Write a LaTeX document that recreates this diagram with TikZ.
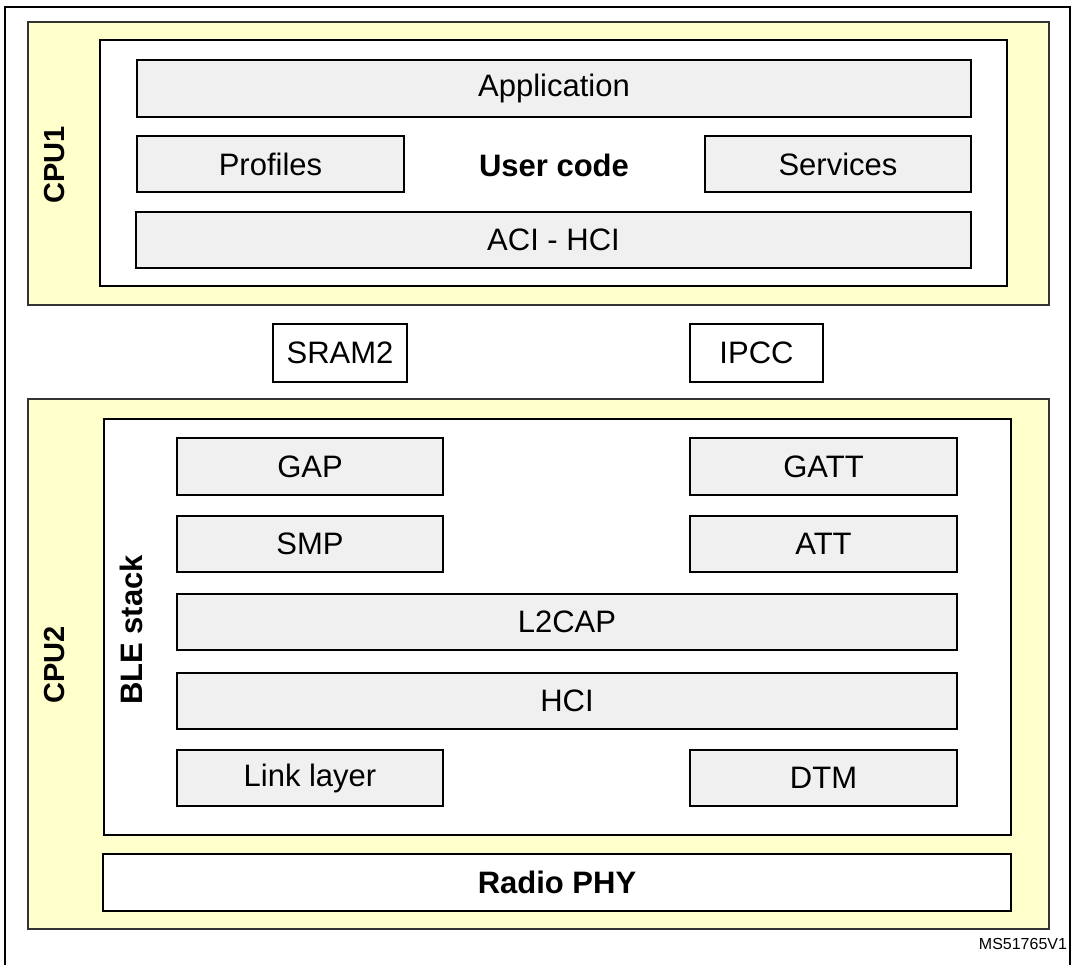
\documentclass[tikz,border=0pt]{standalone}
\usepackage{fontspec}
\setmainfont{Liberation Sans}
\definecolor{cpuyellow}{HTML}{FFFFCC}
\definecolor{blockgray}{HTML}{F0F0F0}
\definecolor{cpuedge}{HTML}{333333}
\begin{document}
\begin{tikzpicture}[x=1pt,y=-1pt,
  every node/.style={inner sep=0pt, outer sep=0pt},
  txt/.style={font=\fontsize{31}{36}\selectfont},
  btxt/.style={font=\fontsize{31}{36}\selectfont\bfseries},
  cputxt/.style={font=\fontsize{29}{34}\selectfont\bfseries, rotate=90},
  cpubox/.style={draw=cpuedge, line width=2pt, fill=cpuyellow},
  contbox/.style={draw=black, line width=2pt, fill=white},
  gblock/.style={draw=black, line width=1.6pt, fill=blockgray, txt},
  wblock/.style={draw=black, line width=1.6pt, fill=white, txt}
]
\useasboundingbox (0,0) rectangle (1072,965);
% outer frame
\draw[line width=2.4pt] (5,965) -- (5,7) -- (1070,7) -- (1070,965);

% CPU1
\node[cpubox, minimum width=1021pt, minimum height=283pt] (cpu1) at (538.5,163.5) {};
\node[cputxt] (cpu1lbl) at (55,165) {CPU1};
\node[contbox, minimum width=907pt, minimum height=246pt] (user) at (553.5,163) {};
\node[gblock, minimum width=834pt, minimum height=57pt] (app) at (554,88.5) {Application};
\node[gblock, minimum width=267pt, minimum height=56pt] (profiles) at (270.5,164) {Profiles};
\node[gblock, minimum width=266pt, minimum height=56pt] (services) at (838,164) {Services};
\node[gblock, minimum width=835pt, minimum height=56pt] (aci) at (553.5,240) {ACI - HCI};
\node[btxt] (usercode) at (554,165) {User code};

% shared resources
\node[wblock, minimum width=134pt, minimum height=58pt] (sram) at (340,353) {SRAM2};
\node[wblock, minimum width=133pt, minimum height=58pt] (ipcc) at (756.5,353) {IPCC};

% CPU2
\node[cpubox, minimum width=1021pt, minimum height=530pt] (cpu2) at (538.5,664) {};
\node[cputxt] (cpu2lbl) at (55,665) {CPU2};
\node[contbox, minimum width=907pt, minimum height=416pt] (ble) at (557.5,627) {};
\node[btxt, rotate=90] (blelbl) at (131,630) {BLE stack};
\node[gblock, minimum width=266pt, minimum height=57pt] (gap) at (310,466.5) {GAP};
\node[gblock, minimum width=267pt, minimum height=57pt] (gatt) at (823.5,466.5) {GATT};
\node[gblock, minimum width=266pt, minimum height=56pt] (smp) at (310,544) {SMP};
\node[gblock, minimum width=267pt, minimum height=56pt] (att) at (823.5,544) {ATT};
\node[gblock, minimum width=780pt, minimum height=56pt] (l2cap) at (567,622) {L2CAP};
\node[gblock, minimum width=780pt, minimum height=56pt] (hci) at (567,701) {HCI};
\node[gblock, minimum width=266pt, minimum height=56pt] (link) at (310,778) {Link layer};
\node[gblock, minimum width=267pt, minimum height=56pt] (dtm) at (823.5,778) {DTM};
\node[draw=black, line width=2pt, fill=white, btxt, minimum width=908pt, minimum height=57pt] (radio) at (557,882.5) {Radio PHY};

\node[font=\fontsize{16}{18}\selectfont, anchor=east] (ref) at (1067,944) {MS51765V1};
\end{tikzpicture}
\end{document}
